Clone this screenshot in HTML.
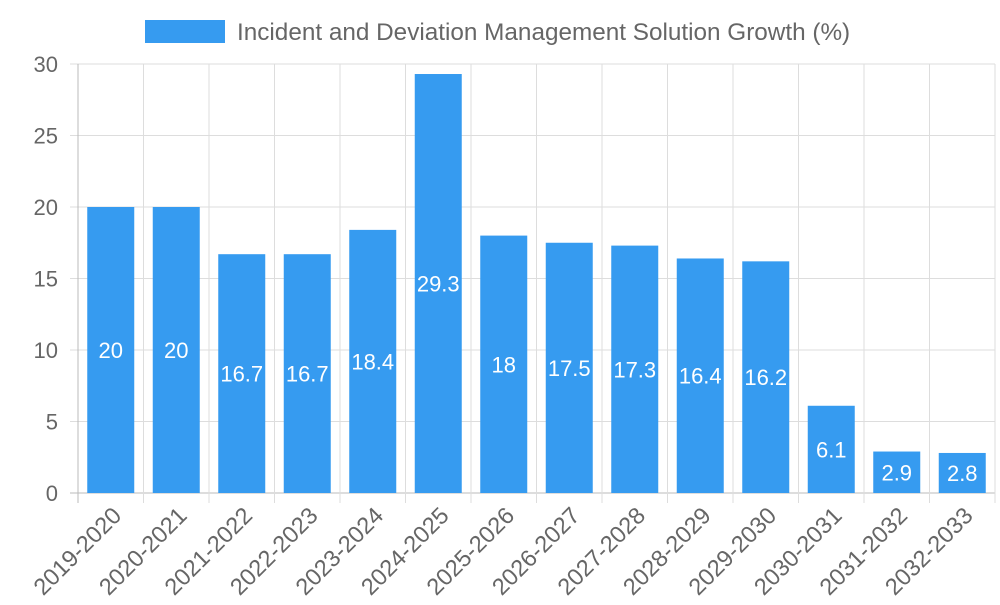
<!DOCTYPE html>
<html><head><meta charset="utf-8"><style>
body{margin:0;background:#fff;width:1000px;height:600px;overflow:hidden}
svg text{font-family:"Liberation Sans",sans-serif}
</style></head><body>
<svg id="chart" width="1000" height="600">
<rect x="145" y="20" width="80" height="23" fill="#369BF0"/>
<text x="237" y="40" font-size="24.3" fill="#666">Incident and Deviation Management Solution Growth (%)</text>
</svg>
<script>
const categories=["2019-2020","2020-2021","2021-2022","2022-2023","2023-2024","2024-2025","2025-2026","2026-2027","2027-2028","2028-2029","2029-2030","2030-2031","2031-2032","2032-2033"];
const values=[20,20,16.7,16.7,18.4,29.3,18,17.5,17.3,16.4,16.2,6.1,2.9,2.8];
const yTicks=[0,5,10,15,20,25,30];
const svg=document.getElementById('chart');
const NS='http://www.w3.org/2000/svg';
const L=78,R=995,T=64,B=493,yMax=30;
const step=(R-L)/categories.length;
const y=v=>B-(v/yMax)*(B-T);
const xc=i=>L+step*(i+0.5);
function mk(tag,attrs,text){const e=document.createElementNS(NS,tag);for(const k in attrs)e.setAttribute(k,attrs[k]);if(text!==undefined)e.textContent=text;svg.appendChild(e);return e;}
yTicks.forEach(t=>{
  const g=mk('line',{x1:L-8,x2:R,y1:y(t),y2:y(t),stroke:t===0?'#bbb':'#ddd','stroke-width':1});
  
  
  const tx=mk('text',{x:L-20,y:y(t)+8,'font-size':22,fill:'#666','text-anchor':'end'},t);
  
  
});
for(let i=0;i<=categories.length;i++){
  const xx=L+step*i;
  const g=mk('line',{x1:xx,x2:xx,y1:T,y2:B+10,stroke:i===0?'#bbb':'#ddd','stroke-width':1});
  
  
}
const bw=47;
categories.forEach((c,i)=>{
  const b=mk('rect',{x:xc(i)-bw/2,y:y(values[i]),width:bw,height:B-y(values[i]),fill:'#369BF0'});
  
  
  const v=mk('text',{x:xc(i),y:y(values[i]/2)+8,'font-size':22,fill:'#fff','text-anchor':'middle'},values[i]);
  
  
  const lx=xc(i)+12,ly=B+24;
  const t=mk('text',{x:lx,y:ly,'font-size':23.5,fill:'#666','text-anchor':'end',transform:`rotate(-45 ${lx} ${ly})`},c);
  
  
});
</script>
</body></html>
